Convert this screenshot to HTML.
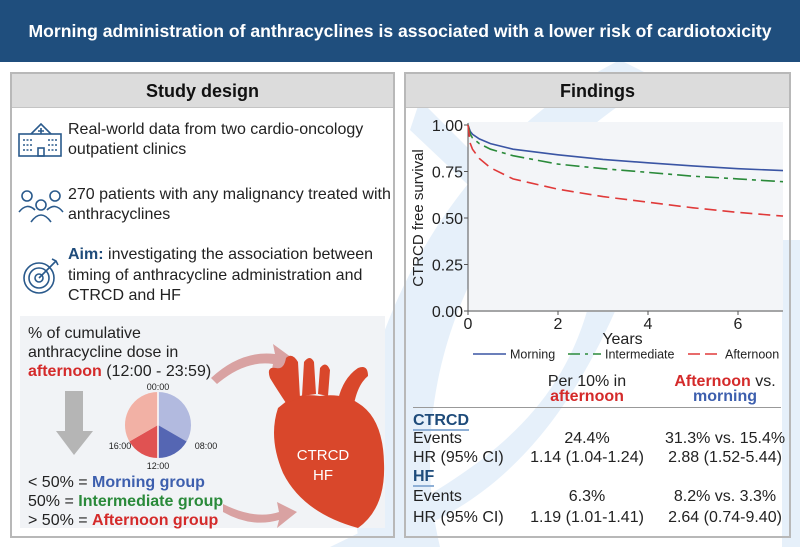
<!DOCTYPE html>
<html><head><meta charset="utf-8">
<style>
*{margin:0;padding:0;box-sizing:border-box}
body{width:800px;height:547px;background:#fff;font-family:"Liberation Sans",Arial,sans-serif;position:relative;overflow:hidden;color:#222}
.a{position:absolute;white-space:nowrap}
.panel{position:absolute;border:2px solid #b8b8b8;background:rgba(255,255,255,0)}
.ph{position:absolute;left:0;right:0;top:0;height:34px;background:#dcdcdc;border-bottom:1px solid #c4c4c4;text-align:center;font-weight:bold;font-size:18px;line-height:34px;color:#111}
.t{font-size:16px;color:#222}
.blue{color:#1e4b7a;font-weight:bold}
</style></head><body>
<svg class="a" style="left:0;top:0" width="800" height="547">
<path d="M360 547 C 330 400, 420 160, 620 60 L 660 80 C 480 180, 400 380, 440 547 Z" fill="#e6f0fa"/>
<path d="M420 100 L 620 300 C 560 440, 480 520, 360 547 L 330 547 C 470 480, 560 420, 590 300 L 410 130 Z" fill="#e6f0fa"/>
<rect x="782" y="240" width="18" height="307" fill="#e6f0fa"/>
</svg>
<div class="a" style="left:0;top:0;width:800px;height:62px;background:#1f4e7d;color:#fff;font-size:17.6px;font-weight:bold;text-align:center;line-height:62px">Morning administration of anthracyclines is associated with a lower risk of cardiotoxicity</div>

<div class="panel" style="left:10px;top:72px;width:385px;height:466px">
<div class="ph">Study design</div>
</div>
<div class="panel" style="left:404px;top:72px;width:387px;height:466px">
<div class="ph">Findings</div>
</div>

<!-- left content -->
<svg class="a" style="left:17px;top:118px" width="48" height="42" fill="none" stroke="#2a5a8c" stroke-width="1.6">
<rect x="2" y="16" width="42" height="22"/><path d="M14 16 L24 6 L34 16"/><path d="M24 10v6M21 13h6"/><rect x="21" y="30" width="6" height="8"/>
<path d="M6 22h10M6 27h10M6 32h10M31 22h10M31 27h10M31 32h10" stroke-dasharray="2 1.5"/></svg>
<div class="a t" style="left:68px;top:120px;line-height:20px">Real-world data from two cardio-oncology<br>outpatient clinics</div>
<svg class="a" style="left:17px;top:188px" width="48" height="36" fill="none" stroke="#2a5a8c" stroke-width="1.6">
<circle cx="10" cy="8" r="5"/><circle cx="38" cy="8" r="5"/><circle cx="24" cy="17" r="5"/><path d="M2 24 q8-10 16-2M46 24 q-8-10 -16-2M14 34 q10-14 20 0"/></svg>
<div class="a t" style="left:68px;top:185px;line-height:20px">270 patients with any malignancy treated with<br>anthracyclines</div>
<svg class="a" style="left:22px;top:256px" width="40" height="40" fill="none" stroke="#2a5a8c" stroke-width="1.6">
<circle cx="17" cy="22" r="15"/><circle cx="17" cy="22" r="10"/><circle cx="17" cy="22" r="4"/><path d="M17 22 L34 5M30 3l4 2 2 4"/></svg>
<div class="a t" style="left:68px;top:245px;line-height:20.5px"><span class="blue">Aim:</span> investigating the association between<br>timing of anthracycline administration and<br>CTRCD and HF</div>

<div class="a" style="left:20px;top:316px;width:365px;height:212px;background:#f1f3f6"></div>
<div class="a t" style="left:28px;top:324px;line-height:19px">% of cumulative<br>anthracycline dose in<br><span style="color:#d42a2a;font-weight:bold">afternoon</span> (12:00 - 23:59)</div>
<svg class="a" style="left:55px;top:391px" width="40" height="66"><path d="M10 0h18v40h10L19 64 1 40h9z" fill="#b5b5b5"/></svg>
<svg class="a" style="left:100px;top:358px" width="124" height="115" font-family="Liberation Sans" font-size="9" fill="#222" text-anchor="middle">
<path d="M58 67 L58 34 A33 33 0 0 1 86.6 83.5 Z" fill="#b2badf"/>
<path d="M58 67 L86.6 83.5 A33 33 0 0 1 58 100 Z" fill="#5566b3"/>
<path d="M58 67 L58 100 A33 33 0 0 1 29.4 83.5 Z" fill="#e05252"/>
<path d="M58 67 L29.4 83.5 A33 33 0 0 1 58 34 Z" fill="#f2b1a5"/>
<path d="M58 34V100" stroke="#fff" stroke-width="1.5"/>
<text x="58" y="32">00:00</text><text x="106" y="91">08:00</text><text x="20" y="91">16:00</text><text x="58" y="111">12:00</text>
</svg>
<div class="a t" style="left:28px;top:473px;line-height:19px">&lt; 50% = <b style="color:#3d5fae">Morning group</b><br>50% = <b style="color:#2a8a3a">Intermediate group</b><br>&gt; 50% = <b style="color:#d42a2a">Afternoon group</b></div>
<svg class="a" style="left:195px;top:340px" width="200" height="190">
<path d="M16 38 Q 46 10 80 14 L78 4 L100 20 L76 34 L78 24 Q50 20 22 44 Z" fill="#d9a2a2"/>
<path d="M28 164 Q 60 180 84 172 L82 162 L102 172 L82 188 L84 180 Q56 188 28 172 Z" fill="#d9a2a2"/>
</svg>
<svg class="a" style="left:258px;top:348px" width="130" height="180">
<path d="M20 60 Q10 90 25 125 Q45 165 100 180 Q128 160 126 115 Q125 70 100 55 Q85 45 62 48 Q42 45 30 52 Z" fill="#d9472b"/>
<path d="M28 55 Q18 40 12 30 Q8 18 18 20 Q26 22 28 10 Q34 4 40 14 L42 50 Z" fill="#d9472b"/>
<path d="M44 48 L46 14 Q52 6 56 14 L58 46 Z M60 46 L62 20 Q68 12 72 22 L70 48 Z" fill="#d9472b"/>
<path d="M80 52 Q85 30 100 20 Q110 16 110 28 Q100 36 96 56 Z" fill="#d9472b"/>
<text x="65" y="112" text-anchor="middle" fill="#fff" font-size="15" font-family="Liberation Sans">CTRCD</text>
<text x="65" y="132" text-anchor="middle" fill="#fff" font-size="15" font-family="Liberation Sans">HF</text>
</svg>

<!-- chart -->
<svg id="chart" class="a" style="left:404px;top:106px" width="396" height="260" font-family="Liberation Sans"></svg>

<!-- table -->
<div class="a" style="left:507px;top:374px;width:160px;text-align:center;font-size:16px;line-height:15px">Per 10% in<br><b style="color:#d42a2a">afternoon</b></div>
<div class="a" style="left:645px;top:374px;width:160px;text-align:center;font-size:16px;line-height:15px"><b style="color:#d42a2a">Afternoon</b> vs.<br><b style="color:#3d5fae">morning</b></div>
<div class="a" style="left:413px;top:407px;width:368px;height:1px;background:#999"></div>
<div class="a" style="left:413px;top:412px;width:370px;font-size:16px">
<div style="position:relative;height:18px"><b style="color:#1e4b7a;border-bottom:2px solid #8fb0d6">CTRCD</b></div>
<div style="position:relative;height:19px"><span>Events</span><span class="a" style="left:114px;width:120px;text-align:center">24.4%</span><span class="a" style="left:252px;width:120px;text-align:center">31.3% vs. 15.4%</span></div>
<div style="position:relative;height:19px"><span>HR (95% CI)</span><span class="a" style="left:114px;width:120px;text-align:center">1.14 (1.04-1.24)</span><span class="a" style="left:252px;width:120px;text-align:center">2.88 (1.52-5.44)</span></div>
<div style="position:relative;height:20px"><b style="color:#1e4b7a;border-bottom:2px solid #8fb0d6">HF</b></div>
<div style="position:relative;height:21px"><span>Events</span><span class="a" style="left:114px;width:120px;text-align:center">6.3%</span><span class="a" style="left:252px;width:120px;text-align:center">8.2% vs. 3.3%</span></div>
<div style="position:relative;height:20px"><span>HR (95% CI)</span><span class="a" style="left:114px;width:120px;text-align:center">1.19 (1.01-1.41)</span><span class="a" style="left:252px;width:120px;text-align:center">2.64 (0.74-9.40)</span></div>
</div>

<script>
const years=[0,0.05,0.1,0.25,0.5,1,2,3,4,5,6,7];
const morning=[1,0.965,0.95,0.925,0.9,0.87,0.84,0.815,0.797,0.78,0.765,0.755];
const intermediate=[1,0.95,0.93,0.9,0.87,0.835,0.79,0.765,0.745,0.725,0.71,0.695];
const afternoon=[1,0.9,0.87,0.82,0.77,0.71,0.655,0.615,0.585,0.555,0.53,0.51];
const xTicks=[0,2,4,6];
const yTicks=[0,0.25,0.5,0.75,1];
const yTickLabels=["0.00","0.25","0.50","0.75","1.00"];
const svg=document.getElementById('chart');
const NS='http://www.w3.org/2000/svg';
const X0=64,X1=379,Y0=205,Y1=19;
const xs=v=>X0+(v/7)*(X1-X0);
const ys=v=>Y0-v*(Y0-Y1);
function mk(t,a,p){const e=document.createElementNS(NS,t);for(const k in a)e.setAttribute(k,a[k]);(p||svg).appendChild(e);return e;}
const bg=mk('rect',{x:X0,y:16,width:315,height:190,fill:'#f3f5f8'});


const ax=mk('path',{d:`M${X0} ${Y1-2}V${Y0}H${X1}`,stroke:'#555',fill:'none','stroke-width':1});


yTicks.forEach((v,i)=>{mk('line',{x1:X0-4,x2:X0,y1:ys(v),y2:ys(v),stroke:'#555'});
const t=mk('text',{x:X0-5,y:ys(v)+6,'text-anchor':'end','font-size':16,fill:'#222'});t.textContent=yTickLabels[i];

});
xTicks.forEach(v=>{mk('line',{x1:xs(v),x2:xs(v),y1:Y0,y2:Y0+4,stroke:'#555'});
const t=mk('text',{x:xs(v),y:Y0+18,'text-anchor':'middle','font-size':16,fill:'#222'});t.textContent=v;

});
const xt=mk('text',{x:xs(3.5)-3,y:Y0+33,'text-anchor':'middle','font-size':16,fill:'#222'});xt.textContent='Years';


const yt=mk('text',{x:0,y:0,'text-anchor':'middle','font-size':15,fill:'#222',transform:`translate(19 ${(Y0+Y1)/2}) rotate(-90)`});yt.textContent='CTRCD free survival';


const series=[[morning,'#3a55a4','none','line-morning'],[intermediate,'#2a8a3a','14 5 4 5','line-intermediate'],[afternoon,'#e03a3a','12 6','line-afternoon']];
series.forEach(([d,c,da,n])=>{let p='';years.forEach((y,i)=>{p+=(i?'L':'M')+xs(y).toFixed(1)+' '+ys(d[i]).toFixed(1);});
const e=mk('path',{d:p,stroke:c,fill:'none','stroke-width':1.6,'stroke-dasharray':da});

});
const leg=[['Morning','#3a55a4','none',69],['Intermediate','#2a8a3a','12 5 3 5',164],['Afternoon','#e03a3a','12 5',284]];
leg.forEach(([l,c,da,x])=>{mk('line',{x1:x,x2:x+33,y1:248,y2:248,stroke:c,'stroke-width':1.6,'stroke-dasharray':da});
const t=mk('text',{x:x+37,y:252.5,'font-size':12.5,fill:'#222'});t.textContent=l;

});
</script>
</body></html>
